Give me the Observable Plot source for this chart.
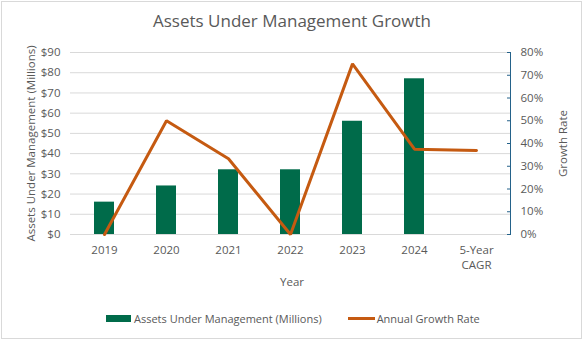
<!DOCTYPE html>
<html>
<head>
<meta charset="utf-8">
<script src="https://cdn.jsdelivr.net/npm/d3@7"></script>
<script src="https://cdn.jsdelivr.net/npm/@observablehq/plot@0.6"></script>
<style>
  html, body { margin:0; padding:0; background:#fff; }
  #wrap { position:relative; width:584px; height:342px; font-family:"Open Sans", sans-serif; color:#595959; overflow:hidden; }
  #border { position:absolute; left:1px; top:1px; width:579px; height:336px; border:1px solid #d9d9d9; }
  #title { position:absolute; top:9px; left:0; width:584px; text-align:center; font-size:17px; }
  #chart { position:absolute; left:0; top:0; }
  .ytitle { position:absolute; font-size:11.5px; white-space:nowrap; transform-origin:center center; }
  #xtitle { position:absolute; top:274px; left:0; width:584px; text-align:center; font-size:11.5px; }
  #legend { position:absolute; top:311px; left:106px; font-size:11px; display:flex; align-items:center; white-space:nowrap; }
  .sw { display:inline-block; }
</style>
</head>
<body>
<div id="wrap">
  <div id="border"></div>
  <div id="title">Assets Under Management Growth</div>
  <div id="chart"></div>
  <div class="ytitle" id="ltitle">Assets Under Management (Millions)</div>
  <div class="ytitle" id="rtitle">Growth Rate</div>
  <div id="xtitle">Year</div>
  <div id="legend">
    <span class="sw" style="width:25px;height:7px;background:#006b4a;margin-right:3px"></span>
    <span>Assets Under Management (Millions)</span>
    <span class="sw" style="width:27px;height:3px;background:#c55a11;margin-left:26px;margin-right:2px"></span>
    <span>Annual Growth Rate</span>
  </div>
</div>
<script>
const years = ["2019", "2020", "2021", "2022", "2023", "2024", "5-Year CAGR"];
const aum = [16, 24, 32, 32, 56, 77, null];
const growth = [0, 0.5, 0.333, 0, 0.75, 0.375, 0.369];
const aumTicks = [0, 10, 20, 30, 40, 50, 60, 70, 80, 90];
const rateTicks = [0, 0.1, 0.2, 0.3, 0.4, 0.5, 0.6, 0.7, 0.8];

const aumMax = 90, rateMax = 0.8;
const toY = r => r * aumMax / rateMax;

const data = years.map((y, i) => ({year: y, aum: aum[i], rate: growth[i]}));
const axisCol = "#24628a";

const plot = Plot.plot({
  width: 584,
  height: 342,
  marginTop: 52,
  marginBottom: 108,
  marginLeft: 70,
  marginRight: 74,
  style: {background: "transparent", fontFamily: "Open Sans, sans-serif", fontSize: "11.5px", color: "#595959"},
  x: {domain: years, paddingInner: 0.68, paddingOuter: 0.34, axis: null},
  y: {domain: [0, aumMax], axis: null},
  marks: [
    Plot.gridY(aumTicks, {stroke: "#d9d9d9", strokeOpacity: 1}),
    Plot.barY(data.filter(d => d.aum != null), {x: "year", y: "aum", fill: "#006b4a"}),
    Plot.lineY(data, {x: "year", y: d => toY(d.rate), stroke: "#c55a11", strokeWidth: 3, strokeLinejoin: "miter"}),
    Plot.axisY(aumTicks, {anchor: "left", tickSize: 0, tickPadding: 10, tickFormat: d => "$" + d, label: null, fill: "#595959"}),
    Plot.axisY(rateTicks.map(toY), {anchor: "right", tickSize: 0, tickPadding: 10, tickFormat: d => Math.round(d * rateMax / aumMax * 100) + "%", label: null, fill: "#595959"}),
    Plot.axisY(rateTicks.map(toY), {anchor: "right", tickSize: 4, dx: -4, tickFormat: () => "", label: null, stroke: axisCol}),
    Plot.axisX({tickSize: 0, tickPadding: 9, tickFormat: d => d === "5-Year CAGR" ? "5-Year\nCAGR" : d, label: null, fill: "#595959", lineHeight: 1.3}),
    Plot.frame({anchor: "right", stroke: axisCol})
  ]
});
document.getElementById("chart").appendChild(plot);

const lt = document.getElementById("ltitle");
const rt = document.getElementById("rtitle");
function place(el, cx, cy, rot) {
  const w = el.offsetWidth, h = el.offsetHeight;
  el.style.left = (cx - w / 2) + "px";
  el.style.top = (cy - h / 2) + "px";
  el.style.transform = `rotate(${rot}deg)`;
}
place(lt, 30, 143, -90);
place(rt, 562, 143, -90);
</script>
</body>
</html>
